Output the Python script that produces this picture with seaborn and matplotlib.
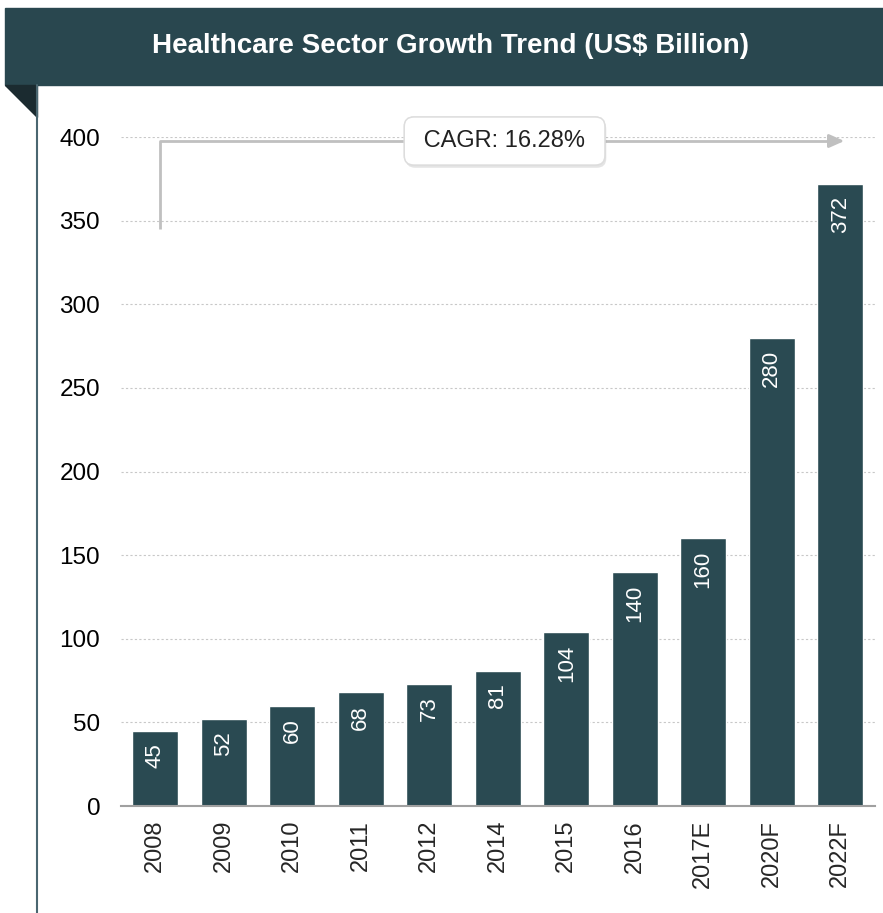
import pandas as pd
import matplotlib.pyplot as plt
import seaborn as sns
from matplotlib.patches import Rectangle, Polygon
from matplotlib.lines import Line2D
import matplotlib.patheffects as pe

# ================================
# Data
# ================================
years = ["2008", "2009", "2010", "2011", "2012", "2014", "2015", "2016", "2017E", "2020F", "2022F"]
values = [45, 52, 60, 68, 73, 81, 104, 140, 160, 280, 372]
cagr_text = "CAGR: 16.28%"
title = "Healthcare Sector Growth Trend (US$ Billion)"

df = pd.DataFrame({"Year": years, "Value": values})

bar_color = "#2A4A52"
banner_color = "#29474F"

sns.set_style("white")
plt.rcParams["font.family"] = ["Liberation Sans", "DejaVu Sans"]

W, H = 883, 913
fig = plt.figure(figsize=(W / 100, H / 100), dpi=100)

# ================================
# Banner + decoration
# ================================
fig.patches.append(Rectangle((5 / W, 1 - 85 / H), 1 - 5 / W, 77 / H,
                             transform=fig.transFigure, color=banner_color, zorder=0))
fig.patches.append(Polygon([(5 / W, 1 - 85 / H), (37 / W, 1 - 85 / H), (37 / W, 1 - 117 / H)],
                           closed=True, transform=fig.transFigure, color="#1B2B30", zorder=0))
fig.lines.append(Line2D([37 / W, 37 / W], [0, 1 - 85 / H], transform=fig.transFigure,
                        color="#4A6670", lw=1.5))
fig.text(451 / W, 1 - 46 / H, title, ha="center", va="center", color="white",
         fontsize=20, fontweight="bold")

# ================================
# Bar chart
# ================================
ax = fig.add_axes([121 / W, 1 - 806 / H, 753.5 / W, 669 / H])
sns.barplot(x="Year", y="Value", data=df, color=bar_color, saturation=1, width=0.67, ax=ax)

ax.set_ylim(0, 400)
ax.set_xlim(-0.5, len(years) - 0.5)
ax.set_yticks(range(0, 401, 50))
ax.yaxis.grid(True, linestyle=(0, (2, 2)), color="#C8C8C8", lw=0.8)
ax.set_axisbelow(True)
ax.set_xlabel("")
ax.set_ylabel("")

for side in ["left", "right", "top"]:
    ax.spines[side].set_visible(False)
ax.spines["bottom"].set_color("#A0A0A0")
ax.spines["bottom"].set_linewidth(1.5)

ax.tick_params(axis="y", length=0, labelsize=17.5, pad=15, labelcolor="black")
ax.tick_params(axis="x", which="major", length=0, labelsize=17, rotation=90, pad=10)
ax.set_xticks([i - 0.5 for i in range(len(years) + 1)], minor=True)
ax.tick_params(axis="x", which="minor", length=8, width=1.5, color="#A0A0A0")

# value labels inside bars
for i, v in enumerate(values):
    ax.annotate(str(v), (i, v), xytext=(0, -9), textcoords="offset points",
                rotation=90, ha="center", va="top", color="white", fontsize=16)

# CAGR arrow
arrow_y = 397.6
ax.plot([0.07, 0.07, 9.9], [345, arrow_y, arrow_y], color="#C0C0C0", lw=2,
        clip_on=False, solid_capstyle="butt")
ax.annotate("", xy=(10.1, arrow_y), xytext=(9.8, arrow_y),
            arrowprops=dict(arrowstyle="-|>,head_length=0.9,head_width=0.4",
                            color="#C0C0C0", lw=2), annotation_clip=False)
t = ax.text(5.1, arrow_y, " " + cagr_text + " ", ha="center", va="center", fontsize=17,
            color="#222222",
            bbox=dict(boxstyle="round,pad=0.55,rounding_size=0.4", fc="white", ec="#DDDDDD", lw=1),
            zorder=5)
t.get_bbox_patch().set_path_effects([pe.withSimplePatchShadow(offset=(1, -2), alpha=0.15),
                                     pe.Normal()])

plt.savefig("out.png", dpi=100)
